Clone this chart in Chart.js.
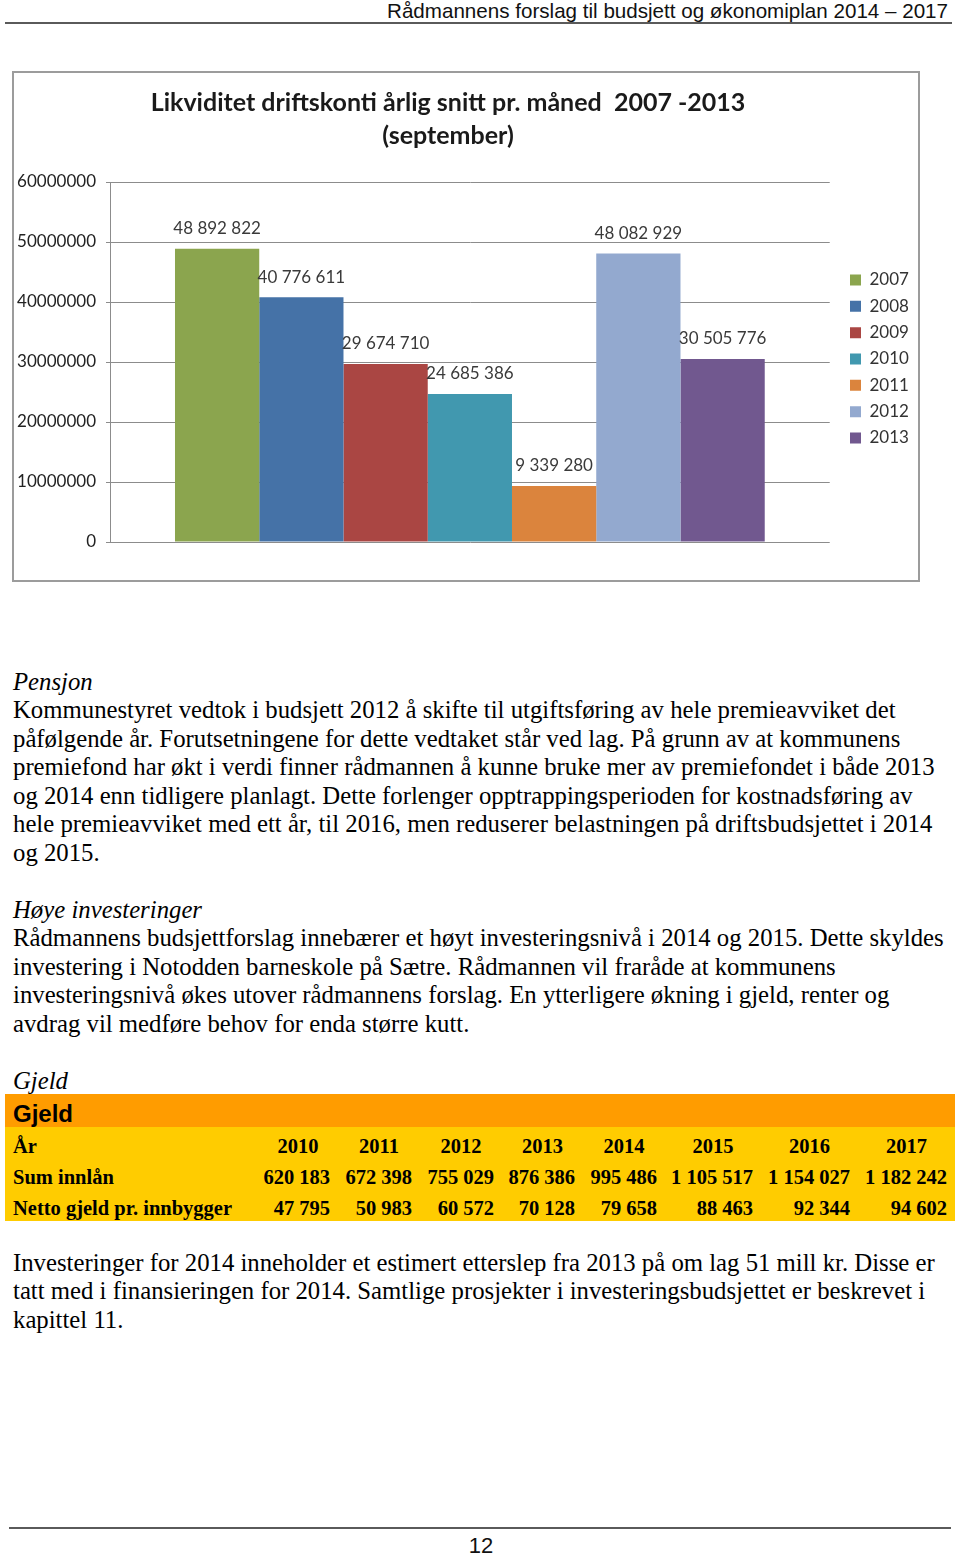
<!DOCTYPE html>
<html>
<head>
<meta charset="utf-8">
<script src="https://cdn.jsdelivr.net/npm/chart.js@4.4.1/dist/chart.umd.min.js"></script>
<style>
html,body{margin:0;padding:0;background:#fff;}
body{width:960px;height:1557px;position:relative;overflow:hidden;}
.hdr{position:absolute;right:12px;top:0;font-family:"Liberation Sans",Arial,sans-serif;font-size:20.6px;line-height:21px;white-space:nowrap;color:#111;}
.hline{position:absolute;left:5px;width:947px;top:22px;height:2px;background:#5a5a5a;}
.chartbox{position:absolute;left:12px;top:71px;width:908px;height:511px;box-sizing:border-box;border:2px solid #9c9c9c;background:#fff;}
.chartbox canvas{position:absolute;left:0;top:0;}
.txt{position:absolute;left:13px;font-family:"Liberation Serif","Times New Roman",serif;font-size:24.75px;line-height:28.5px;color:#000;white-space:nowrap;}
.txt i{font-style:italic;}
.tbl{position:absolute;left:5px;width:950px;font-family:"Liberation Serif","Times New Roman",serif;font-weight:bold;font-size:20.5px;color:#000;}
.tbl .head{position:absolute;left:0;top:0;width:950px;height:33px;background:#FF9C00;}
.tbl .head span{position:absolute;left:8px;top:2.5px;line-height:33px;font-family:"Liberation Sans",Arial,sans-serif;font-weight:bold;font-size:24px;}
.tbl .body{position:absolute;left:0;top:33px;width:950px;height:94px;background:#FFCC00;}
.tbl .row{position:absolute;left:0;width:950px;height:31px;line-height:31px;white-space:nowrap;}
.tbl .cell{position:absolute;top:0;height:31px;}
.fline{position:absolute;left:9px;width:942px;top:1527px;height:2px;background:#5a5a5a;}
.pno{position:absolute;left:0;width:962px;top:1535px;text-align:center;font-family:"Liberation Sans",Arial,sans-serif;font-size:22px;line-height:22px;color:#111;}
</style>
</head>
<body>
<div class="hdr">Rådmannens forslag til budsjett og økonomiplan 2014 – 2017</div>
<div class="hline"></div>

<div class="chartbox"><canvas id="c" width="904" height="507"></canvas></div>

<div class="txt" style="top:667.5px;"><i>Pensjon</i><br>Kommunestyret vedtok i budsjett 2012 å skifte til utgiftsføring av hele premieavviket det<br>påfølgende år. Forutsetningene for dette vedtaket står ved lag. På grunn av at kommunens<br>premiefond har økt i verdi finner rådmannen å kunne bruke mer av premiefondet i både 2013<br>og 2014 enn tidligere planlagt. Dette forlenger opptrappingsperioden for kostnadsføring av<br>hele premieavviket med ett år, til 2016, men reduserer belastningen på driftsbudsjettet i 2014<br>og 2015.<br><br><i>Høye investeringer</i><br>Rådmannens budsjettforslag innebærer et høyt investeringsnivå i 2014 og 2015. Dette skyldes<br>investering i Notodden barneskole på Sætre. Rådmannen vil fraråde at kommunens<br>investeringsnivå økes utover rådmannens forslag. En ytterligere økning i gjeld, renter og<br>avdrag vil medføre behov for enda større kutt.<br><br><i>Gjeld</i></div>

<div class="tbl" id="tbl" style="top:1094px;height:127px;">
  <div class="head"><span>Gjeld</span></div>
  <div class="body" id="tblbody"></div>
</div>

<div class="txt" style="top:1248.5px;">Investeringer for 2014 inneholder et estimert etterslep fra 2013 på om lag 51 mill kr. Disse er<br>tatt med i finansieringen for 2014. Samtlige prosjekter i investeringsbudsjettet er beskrevet i<br>kapittel 11.</div>

<div class="fline"></div>
<div class="pno">12</div>

<script>
// ---------- chart data ----------
const categories = [''];
const seriesLabels = ['2007', '2008', '2009', '2010', '2011', '2012', '2013'];
const seriesValues = [48892822, 40776611, 29674710, 24685386, 9339280, 48082929, 30505776];
const seriesColors = ['#8BA54E', '#4572A7', '#AA4643', '#4198AF', '#DB843D', '#93A9CF', '#71588F'];
const yTickValues = [0, 10000000, 20000000, 30000000, 40000000, 50000000, 60000000];
const chartTitle = ['Likviditet driftskonti årlig snitt pr. måned  2007 -2013', '(september)'];

// ---------- table data ----------
const tableHeader = 'År';
const tableYears = ['2010', '2011', '2012', '2013', '2014', '2015', '2016', '2017'];
const rowSumLabel = 'Sum innlån';
const rowSumValues = ['620 183', '672 398', '755 029', '876 386', '995 486', '1 105 517', '1 154 027', '1 182 242'];
const rowNettoLabel = 'Netto gjeld pr. innbygger';
const rowNettoValues = ['47 795', '50 983', '60 572', '70 128', '79 658', '88 463', '92 344', '94 602'];

// build table
(function () {
  const colEdges = [0, 253, 333, 415, 497, 578, 660, 756, 853, 950];
  const body = document.getElementById('tblbody');
  const rows = [
    [tableHeader, tableYears, 'center'],
    [rowSumLabel, rowSumValues, 'right'],
    [rowNettoLabel, rowNettoValues, 'right']
  ];
  rows.forEach((r, ri) => {
    const row = document.createElement('div');
    row.className = 'row';
    row.style.top = (3.5 + ri * 31) + 'px';
    const first = document.createElement('div');
    first.className = 'cell';
    first.style.left = '8px';
    first.textContent = r[0];
    row.appendChild(first);
    r[1].forEach((v, ci) => {
      const c = document.createElement('div');
      c.className = 'cell';
      const l = colEdges[ci + 1], rr = colEdges[ci + 2];
      c.style.left = l + 'px';
      c.style.width = (rr - l - (r[2] === 'right' ? 8 : 0)) + 'px';
      c.style.textAlign = r[2];
      c.textContent = v;
      row.appendChild(c);
    });
    body.appendChild(row);
  });
})();

const fmt = v => String(v).replace(/\B(?=(\d{3})+(?!\d))/g, ' ');

const valueLabels = {
  id: 'valueLabels',
  afterDatasetsDraw(chart) {
    const ctx = chart.ctx;
    ctx.save();
    ctx.font = '17px Lato';
    ctx.fillStyle = '#3a3a3a';
    ctx.textAlign = 'center';
    ctx.textBaseline = 'middle';
    chart.data.datasets.forEach((ds, i) => {
      const meta = chart.getDatasetMeta(i);
      meta.data.forEach((el, j) => {
        ctx.fillText(fmt(ds.data[j]), el.x, el.y - 20);
      });
    });
    ctx.restore();
  }
};

const LEGEND_ITEM_X = 836;
const fineTune = {
  id: 'fineTune',
  afterLayout(chart) {
    if (chart.titleBlock) {
      chart.titleBlock.right = chart.titleBlock.left + 868;
    }
    const lg = chart.legend;
    if (lg) {
      const w = lg.width;
      const pad = lg.options.labels.padding;
      lg.left = LEGEND_ITEM_X - pad;
      lg.right = lg.left + w;
      lg.top -= 3;
      lg.bottom -= 3;
    }
  }
};

const chart = new Chart(document.getElementById('c'), {
  type: 'bar',
  data: {
    labels: categories,
    datasets: seriesLabels.map((lab, i) => ({
      label: lab,
      data: [seriesValues[i]],
      backgroundColor: seriesColors[i],
      borderWidth: 0
    }))
  },
  options: {
    responsive: false,
    animation: false,
    devicePixelRatio: 1,
    categoryPercentage: 0.8194,
    barPercentage: 1,
    layout: { padding: { top: 0, left: 0, right: 10, bottom: 38 } },
    plugins: {
      title: {
        display: true,
        text: chartTitle,
        color: '#1a1a1a',
        font: { family: 'Lato', size: 25, weight: 'bold', lineHeight: 33 / 25 },
        padding: { top: 13.5, bottom: 29.5 }
      },
      legend: {
        display: true,
        position: 'right',
        fullSize: false,
        align: 'center',
        labels: {
          boxWidth: 11,
          boxHeight: 11,
          padding: 9.33,
          color: '#333',
          font: { family: 'Lato', size: 17 }
        }
      },
      tooltip: { enabled: false }
    },
    scales: {
      x: { display: false },
      y: {
        min: 0,
        max: 60000000,
        afterFit: s => { s.width = 96; },
        afterBuildTicks: s => { s.ticks = yTickValues.map(v => ({ value: v })); },
        ticks: {
          padding: 10,
          color: '#222',
          font: { family: 'Lato', size: 17 },
          callback: v => String(v)
        },
        grid: { color: '#8c8c8c', lineWidth: 1, tickLength: 4 },
        border: { color: '#8c8c8c', width: 1 }
      }
    }
  },
  plugins: [valueLabels, fineTune]
});

// align plot right edge to x=816 inside the canvas
const diff = chart.chartArea.right - 816;
if (Math.abs(diff) > 0.5) {
  chart.options.layout.padding.right += diff;
  chart.update('none');
}
</script>
</body>
</html>
